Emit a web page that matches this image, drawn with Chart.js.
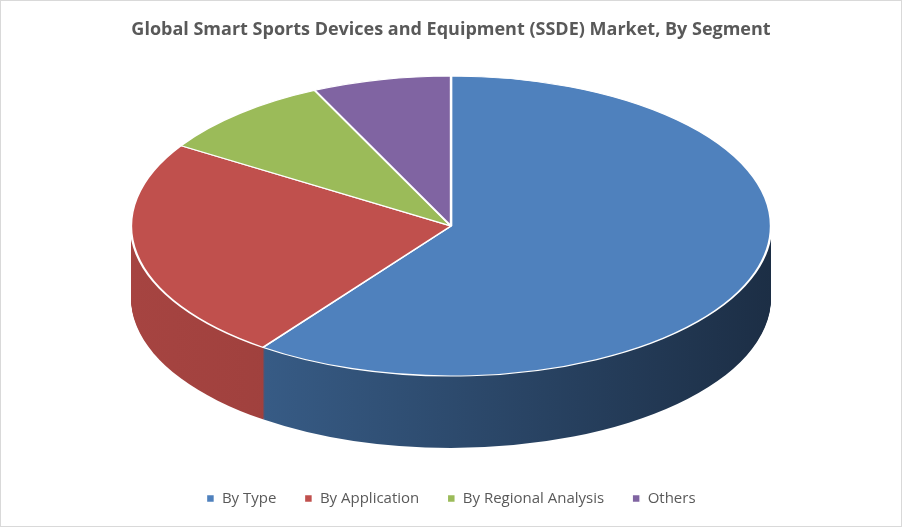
<!DOCTYPE html>
<html>
<head>
<meta charset="utf-8">
<script src="https://cdn.jsdelivr.net/npm/chart.js@4"></script>
<style>
  body { margin: 0; background: #fff; }
  #wrap { width: 900px; height: 525px; border: 1px solid #d9d9d9; }
</style>
</head>
<body>
<div id="wrap"><canvas id="stage" width="900" height="525"></canvas></div>
<script>
// segment shares (percent)
var labels = ["By Type", "By Application", "By Regional Analysis", "Others"];
var shares = [60, 24, 9, 7];
var colors = ["#4f81bd", "#c0504d", "#9bbb59", "#8064a2"];
var sideColors = [["#3e6796", "#1c2e45"], ["#a64441", "#8a3431"], ["#7d984a", "#62783a"], ["#664f84", "#4f3d68"]];

// squash the pie into an ellipse and extrude it downward
var tilt = {
  id: 'tilt',
  beforeDatasetsDraw: function(chart) {
    var ctx = chart.ctx;
    var arcs = chart.getDatasetMeta(0).data;
    var cx = arcs[0].x, cy = arcs[0].y, R = arcs[0].outerRadius;
    var ex = 450, ey = 225, rx = 320, ry = 150, depth = 72;
    // side walls
    for (var d = depth; d > 0; d--) {
      arcs.forEach(function(a, i) {
        ctx.save();
        ctx.translate(ex, ey + d);
        ctx.scale(rx / R, ry / R);
        ctx.translate(-cx, -cy);
        var g = ctx.createLinearGradient(cx - R, 0, cx + R, 0);
        g.addColorStop(0, sideColors[i][0]);
        g.addColorStop(1, sideColors[i][1]);
        ctx.fillStyle = g;
        ctx.beginPath();
        ctx.moveTo(cx, cy);
        ctx.arc(cx, cy, R, a.startAngle, a.endAngle);
        ctx.closePath();
        ctx.fill();
        ctx.restore();
      });
    }
    ctx.save();
    ctx.translate(ex, ey);
    ctx.scale(rx / R, ry / R);
    ctx.translate(-cx, -cy);
  },
  afterDatasetsDraw: function(chart) {
    chart.ctx.restore();
  }
};

new Chart(document.getElementById('stage'), {
  type: 'pie',
  data: {
    labels: labels,
    datasets: [{
      data: shares,
      backgroundColor: colors,
      borderColor: "#ffffff",
      borderWidth: 1.5
    }]
  },
  options: {
    responsive: false,
    animation: false,
    events: [],
    layout: { padding: { top: 0, bottom: 10 } },
    plugins: {
      title: {
        display: true,
        text: "Global Smart Sports Devices and Equipment (SSDE) Market, By Segment",
        color: "#595959",
        font: { family: "Open Sans", size: 18, weight: "bold" },
        padding: { top: 18, bottom: 20 }
      },
      legend: {
        position: 'bottom',
        labels: {
          color: "#595959",
          font: { family: "Open Sans", size: 15 },
          boxWidth: 8,
          boxHeight: 8,
          padding: 28
        }
      },
      tooltip: { enabled: false }
    }
  },
  plugins: [tilt]
});
</script>
</body>
</html>
